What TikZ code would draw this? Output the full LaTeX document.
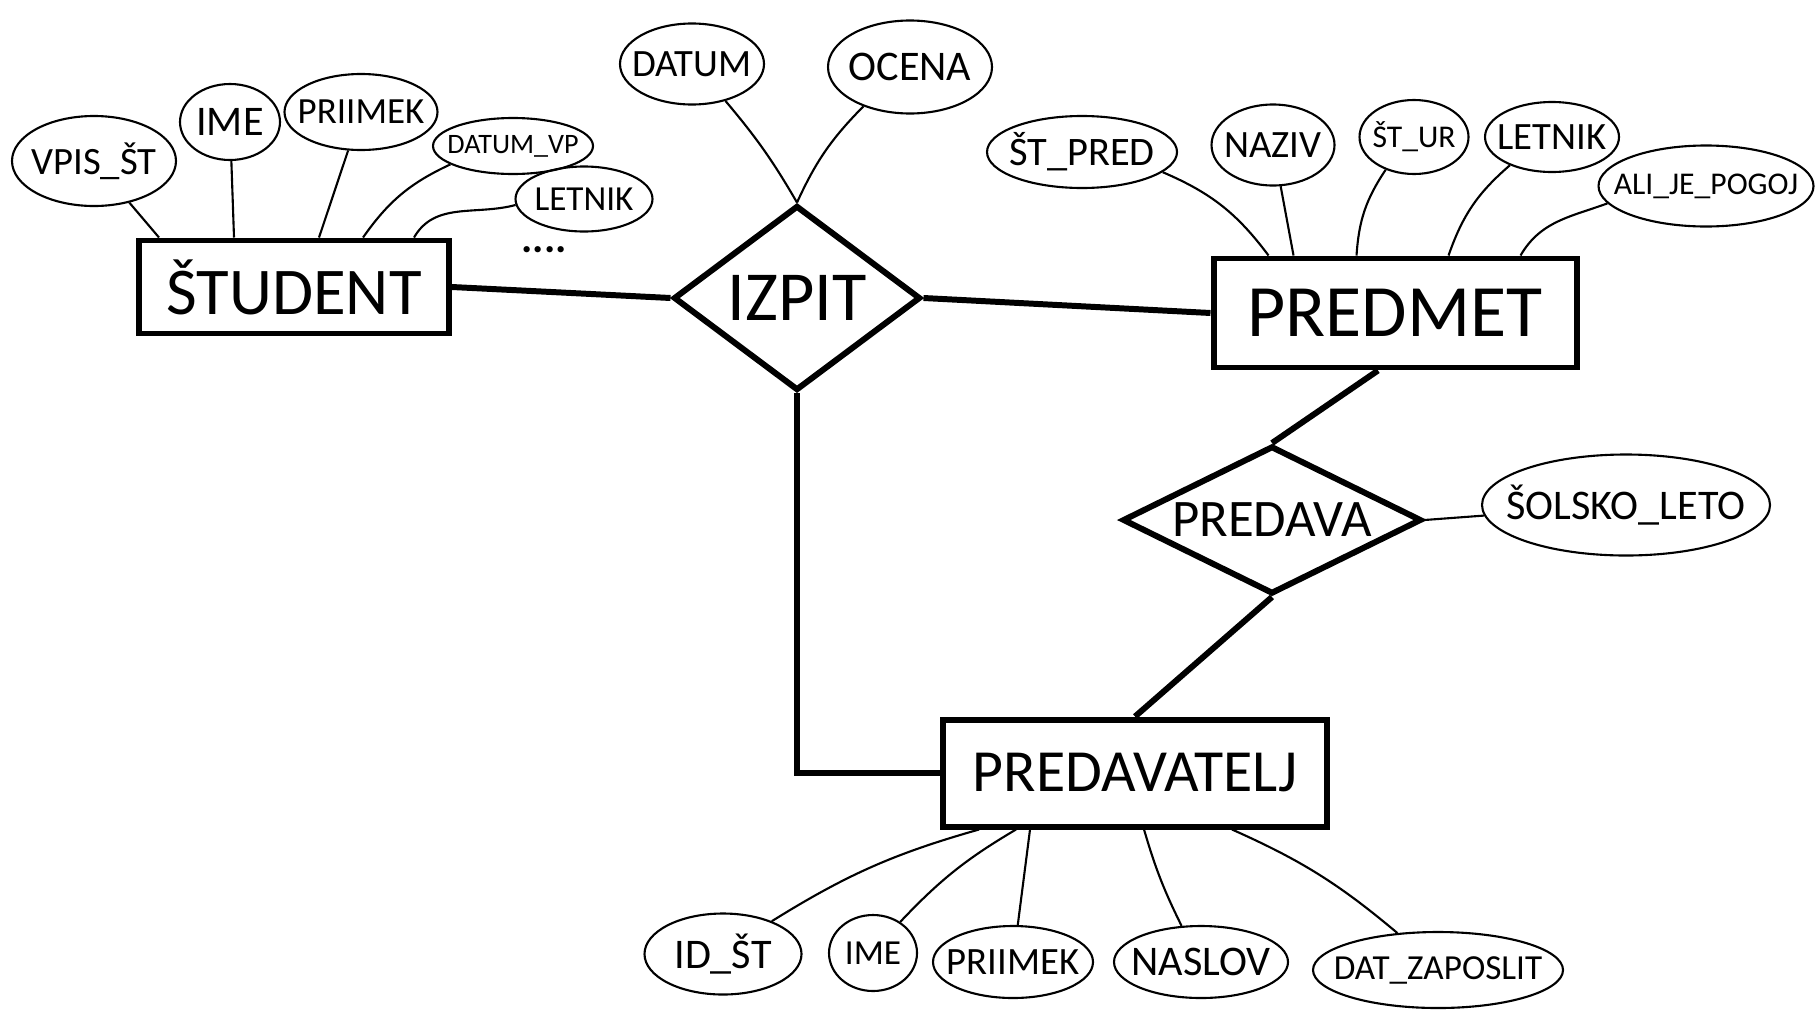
\documentclass[tikz,border=0pt]{standalone}
\usepackage{fontspec}
\setmainfont{Carlito}
\usetikzlibrary{shapes.geometric,calc}

\tikzset{
  entity/.style={draw, line width=1.7pt, rectangle, inner sep=0pt},
  relation/.style={draw, line width=1.7pt, diamond, inner xsep=-3cm, inner ysep=-1cm},
  attr/.style={draw, line width=0.6pt, ellipse, inner xsep=-3cm, inner ysep=-1cm},
  sz/.style n args={2}{minimum width=#1*0.01cm, minimum height=#2*0.01cm},
  link/.style={line width=1.7pt},
  alink/.style={line width=0.6pt},
  fs/.style={font=\fontsize{#1}{#1}\selectfont}
}

\begin{document}
\begin{tikzpicture}[x=0.01cm, y=-0.01cm]
\useasboundingbox[fill=white] (0,0) rectangle (1816,1009);

% entities
\node[entity, sz={310}{93}, fs=19pt] (stud) at (294,287) {ŠTUDENT};
\node[entity, sz={363}{109}, fs=21pt] (predmet) at (1395,313) {PREDMET};
\node[entity, sz={384}{107}, fs=17pt] (predavatelj) at (1135,773) {PREDAVATELJ};

% relationships
\node[relation, sz={247}{185}, fs=20pt] (izpit) at (797,298) {IZPIT};
\node[relation, sz={299}{148}, fs=15pt] (predava) at (1272,520) {PREDAVA};

% attributes of ŠTUDENT
\node[attr, sz={164}{90}, fs=11pt] (vpis) at (94,161) {VPIS\_ŠT};
\node[attr, sz={100}{76}, fs=12pt] (sime) at (230,122) {IME};
\node[attr, sz={153}{76}, fs=10.5pt] (spriimek) at (361,112) {PRIIMEK};
\node[attr, sz={160}{56}, fs=8pt] (datumvp) at (513,146) {DATUM\_VP};
\node[attr, sz={137}{65}, fs=10pt] (sletnik) at (584,199) {LETNIK};
\node[font=\fontsize{12}{12}\selectfont\bfseries] (more) at (544,250) {....};

% attributes of IZPIT
\node[attr, sz={144}{81}, fs=11pt] (datum) at (692,64) {DATUM};
\node[attr, sz={164}{93}, fs=12pt] (ocena) at (910,67) {OCENA};

% attributes of PREDMET
\node[attr, sz={190}{72}, fs=11.5pt] (stpred) at (1082,152) {ŠT\_PRED};
\node[attr, sz={123}{81}, fs=11pt] (naziv) at (1273,145) {NAZIV};
\node[attr, sz={109}{74}, fs=9pt] (stur) at (1414,137) {ŠT\_UR};
\node[attr, sz={134}{70}, fs=11pt] (pletnik) at (1552,137) {LETNIK};
\node[attr, sz={215}{81}, fs=9pt] (pogoj) at (1706,186) {ALI\_JE\_POGOJ};

% attribute of PREDAVA
\node[attr, sz={288}{101}, fs=12pt] (leto) at (1626,505) {ŠOLSKO\_LETO};

% attributes of PREDAVATELJ
\node[attr, sz={157}{81}, fs=12pt] (idst) at (723,954) {ID\_ŠT};
\node[attr, sz={88}{76}, fs=10pt] (pime) at (873,953) {IME};
\node[attr, sz={160}{72}, fs=11pt] (ppriimek) at (1013,962) {PRIIMEK};
\node[attr, sz={174}{72}, fs=12pt] (naslov) at (1201,962) {NASLOV};
\node[attr, sz={250}{76}, fs=10pt] (zaposlit) at (1438,970) {DAT\_ZAPOSLIT};

% relationship links
\draw[link] (stud.east) -- (izpit.west);
\draw[link] (izpit.east) -- (predmet.west);
\draw[link] (izpit.south) |- (predavatelj.west);
\draw[link] ($(predmet.south)+(-17,0)$) -- (predava.north);
\draw[link] (predava.south) -- (predavatelj.north);
\draw[alink] (predava.east) -- (leto);

% attribute links of ŠTUDENT
\draw[alink] (vpis) -- ($(stud.north west)+(23,0)$);
\draw[alink] (sime) -- ($(stud.north west)+(98,0)$);
\draw[alink] (spriimek) -- ($(stud.north west)+(183,0)$);
\draw[alink] (datumvp) to[bend right=15] ($(stud.north west)+(227,0)$);
\draw[alink] (sletnik.185) to[out=195, in=60] ($(stud.north west)+(278,0)$);

% attribute links of IZPIT
\draw[alink] (datum) to[bend left=5] (izpit.north);
\draw[alink] (ocena) to[bend right=10] (izpit.north);

% attribute links of PREDMET
\draw[alink] (stpred) to[bend left=15] ($(predmet.north west)+(58,0)$);
\draw[alink] (naziv) -- ($(predmet.north west)+(83,0)$);
\draw[alink] (stur) to[bend right=15] ($(predmet.north west)+(146,0)$);
\draw[alink] (pletnik) to[bend right=15] ($(predmet.north west)+(238,0)$);
\draw[alink] (pogoj.190) to[out=200, in=60] ($(predmet.north west)+(310,0)$);

% attribute links of PREDAVATELJ
\draw[alink] (idst) to[bend left=8] ($(predavatelj.south west)+(39,0)$);
\draw[alink] (pime) to[bend left=8] ($(predavatelj.south west)+(76,0)$);
\draw[alink] (ppriimek) -- ($(predavatelj.south west)+(90,0)$);
\draw[alink] (naslov) to[bend left=5] ($(predavatelj.south west)+(204,0)$);
\draw[alink] (zaposlit) to[bend right=8] ($(predavatelj.south west)+(292,0)$);
\end{tikzpicture}
\end{document}
